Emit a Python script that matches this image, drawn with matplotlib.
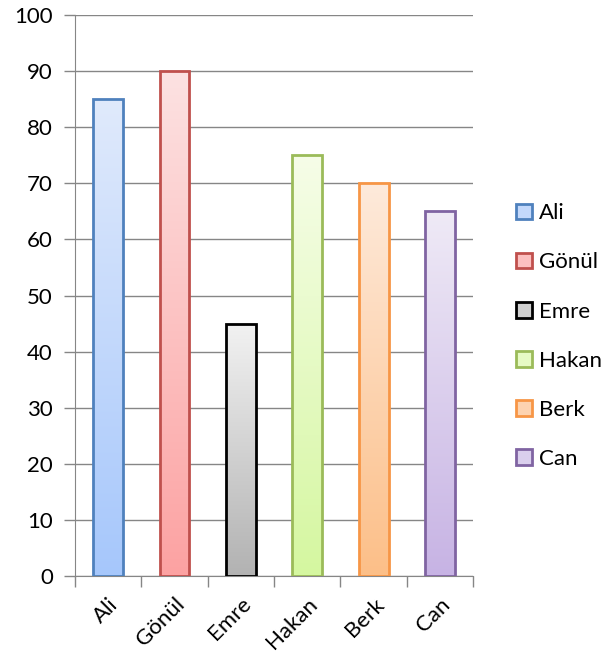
import numpy as np
import matplotlib.pyplot as plt
from matplotlib.colors import LinearSegmentedColormap
from matplotlib.patches import Patch

names = ["Ali", "Gönül", "Emre", "Hakan", "Berk", "Can"]
values = [85, 90, 45, 75, 70, 65]
edge_colors = ["#4F81BD", "#C0504D", "#000000", "#9BBB59", "#F79646", "#8064A2"]
top_colors = ["#E0EAFC", "#FDE2E2", "#F2F2F2", "#F6FDE8", "#FEEADB", "#EFEAF6"]
bottom_colors = ["#A6C7FB", "#FCA2A2", "#B2B2B2", "#D5F7A0", "#FCBF88", "#C7B3E4"]
legend_fill = ["#C3D8FB", "#FCC0C0", "#D0D0D0", "#E6FAC4", "#FDD3B0", "#DACFED"]

plt.rcParams['font.family'] = ['Lato', 'DejaVu Sans']

fig = plt.figure(figsize=(6.05, 6.59), dpi=100)
ax = fig.add_axes([0.124, 0.126, 0.658, 0.851])

width = 0.45
x = np.arange(len(names))
grad = np.linspace(0, 1, 256).reshape(-1, 1)
for i, v in enumerate(values):
    cmap = LinearSegmentedColormap.from_list("g", [bottom_colors[i], top_colors[i]])
    ax.imshow(grad, cmap=cmap, origin="lower", aspect="auto",
              extent=(x[i] - width / 2, x[i] + width / 2, 0, v), zorder=2)
ax.bar(x, values, width=width, facecolor="none", edgecolor=edge_colors,
       linewidth=2, zorder=3)

ax.set_xlim(-0.5, len(names) - 0.5)
ax.set_ylim(0, 100)
ax.set_yticks(range(0, 101, 10))
ax.yaxis.grid(True, color="#868686", linewidth=1)
ax.set_axisbelow(True)

ax.set_xticks(x)
ax.set_xticklabels(names, rotation=45, ha="right", rotation_mode="anchor",
                   fontsize=16, fontstyle="normal")
ax.set_xticks(np.arange(-0.5, len(names)), minor=True)
ax.tick_params(axis="x", which="major", length=0, pad=13)
ax.tick_params(axis="x", which="minor", length=8, color="#868686", width=1)
ax.tick_params(axis="y", length=8, color="#868686", width=1, labelsize=16, pad=8)

for s in ["top", "right"]:
    ax.spines[s].set_visible(False)
for s in ["left", "bottom"]:
    ax.spines[s].set_color("#868686")

handles = [Patch(facecolor=m, edgecolor=e, linewidth=2, label=n)
           for n, m, e in zip(names, legend_fill, edge_colors)]
fig.legend(handles=handles, loc="center left", bbox_to_anchor=(0.82, 0.49),
           frameon=False, fontsize=16, handlelength=0.7, handleheight=0.7,
           handletextpad=0.35, labelspacing=1.31)

fig.savefig("out.png", dpi=100)
